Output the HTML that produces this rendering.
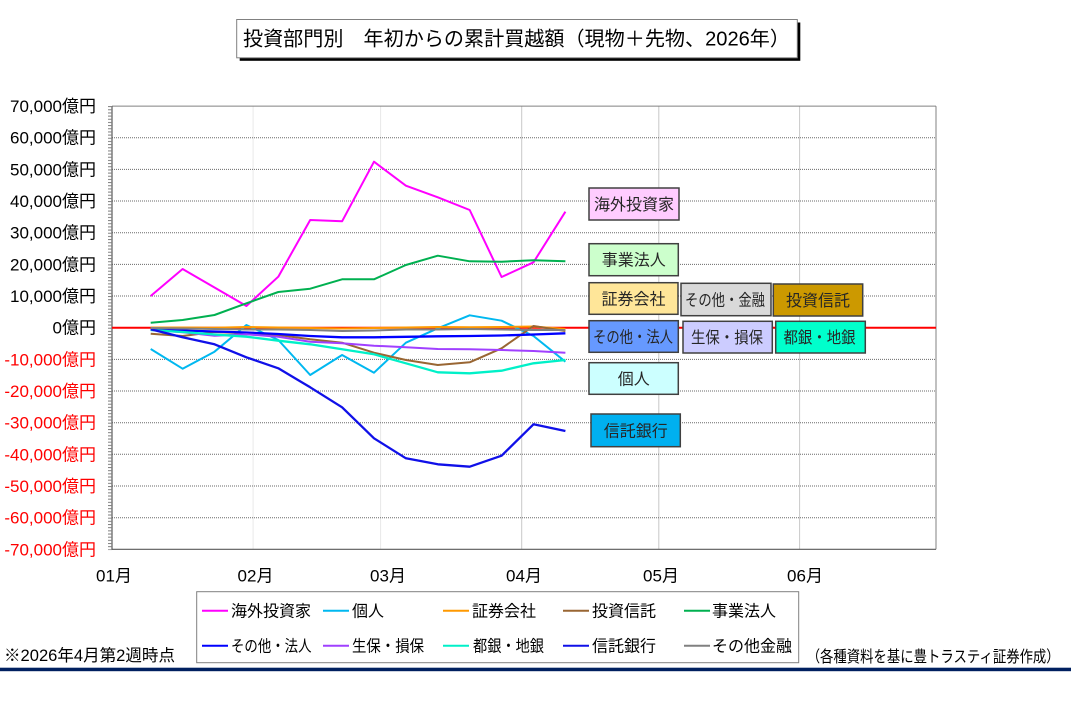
<!DOCTYPE html>
<html><head><meta charset="utf-8"><style>
html,body{margin:0;padding:0;background:#fff;}
svg{display:block;}
text{font-family:"Liberation Sans","Noto Sans CJK JP",sans-serif;}
</style></head><body>
<svg width="1074" height="707" viewBox="0 0 1074 707" xmlns="http://www.w3.org/2000/svg">
<defs>
<pattern id="tk" patternUnits="userSpaceOnUse" x="0" y="106.1" width="10" height="3.166">
<rect x="0" y="0" width="10" height="1" fill="#808080"/>
</pattern>
</defs>
<rect width="1074" height="707" fill="#fff"/>

<!-- Title -->
<rect x="239.7" y="22.5" width="560.6" height="38.3" fill="#000"/>
<rect x="236.7" y="19.5" width="560.6" height="38.3" fill="#fff" stroke="#808080" stroke-width="1"/>
<text x="243" y="45.5" font-size="20" fill="#000" textLength="547" lengthAdjust="spacingAndGlyphs">投資部門別　年初からの累計買越額（現物＋先物、2026年）</text>

<!-- vertical gridlines -->
<g stroke-width="1">
<line x1="253.1" y1="106.1" x2="253.1" y2="549.3" stroke="#e8e8e8"/>
<line x1="380.6" y1="106.1" x2="380.6" y2="549.3" stroke="#e8e8e8"/>
<line x1="521.7" y1="106.1" x2="521.7" y2="549.3" stroke="#c8c8c8"/>
<line x1="658.8" y1="106.1" x2="658.8" y2="549.3" stroke="#c8c8c8"/>
<line x1="799.6" y1="106.1" x2="799.6" y2="549.3" stroke="#c8c8c8"/>
</g>

<!-- horizontal gridlines (dotted) -->
<g stroke="#6a6a6a" stroke-width="1" stroke-dasharray="1,1">
<line x1="112" y1="137.7" x2="936" y2="137.7"/>
<line x1="112" y1="169.4" x2="936" y2="169.4"/>
<line x1="112" y1="201.0" x2="936" y2="201.0"/>
<line x1="112" y1="232.7" x2="936" y2="232.7"/>
<line x1="112" y1="264.4" x2="936" y2="264.4"/>
<line x1="112" y1="296.0" x2="936" y2="296.0"/>
<line x1="112" y1="359.4" x2="936" y2="359.4"/>
<line x1="112" y1="391.0" x2="936" y2="391.0"/>
<line x1="112" y1="422.7" x2="936" y2="422.7"/>
<line x1="112" y1="454.3" x2="936" y2="454.3"/>
<line x1="112" y1="486.0" x2="936" y2="486.0"/>
<line x1="112" y1="517.7" x2="936" y2="517.7"/>
</g>

<!-- plot border -->
<line x1="112" y1="106.1" x2="936" y2="106.1" stroke="#808080" stroke-width="1"/>
<line x1="936" y1="106.1" x2="936" y2="549.3" stroke="#808080" stroke-width="1"/>
<line x1="112" y1="549.3" x2="936" y2="549.3" stroke="#595959" stroke-width="1.2"/>
<line x1="112" y1="106.1" x2="112" y2="549.8" stroke="#595959" stroke-width="1.2"/>
<rect x="108" y="105.6" width="4" height="444.5" fill="url(#tk)"/>

<!-- zero line -->
<line x1="112" y1="327.7" x2="936" y2="327.7" stroke="#FF0000" stroke-width="2"/>

<!-- Y labels -->
<g font-size="17" text-anchor="end">
<text x="96" y="112" fill="#000">70,000億円</text>
<text x="96" y="143.7" fill="#000">60,000億円</text>
<text x="96" y="175.4" fill="#000">50,000億円</text>
<text x="96" y="207" fill="#000">40,000億円</text>
<text x="96" y="238.7" fill="#000">30,000億円</text>
<text x="96" y="270.4" fill="#000">20,000億円</text>
<text x="96" y="302" fill="#000">10,000億円</text>
<text x="96" y="333.7" fill="#000">0億円</text>
<text x="96" y="365.4" fill="#FF0000">-10,000億円</text>
<text x="96" y="397" fill="#FF0000">-20,000億円</text>
<text x="96" y="428.7" fill="#FF0000">-30,000億円</text>
<text x="96" y="460.3" fill="#FF0000">-40,000億円</text>
<text x="96" y="492" fill="#FF0000">-50,000億円</text>
<text x="96" y="523.7" fill="#FF0000">-60,000億円</text>
<text x="96" y="555.3" fill="#FF0000">-70,000億円</text>
</g>

<!-- X labels -->
<g font-size="17" text-anchor="middle" fill="#000">
<text x="114" y="581.5">01月</text>
<text x="255.5" y="581.5">02月</text>
<text x="388" y="581.5">03月</text>
<text x="524" y="581.5">04月</text>
<text x="661" y="581.5">05月</text>
<text x="805" y="581.5">06月</text>
</g>

<!-- series -->
<g fill="none" stroke-width="2" stroke-linejoin="round">
<polyline stroke="#FF00FF" points="150.7,296 182.6,269 214.5,287.5 246.4,306 278.3,276.7 310.2,220 342.1,221.3 374,161.7 405.9,185.7 437.8,197.3 469.7,210 501.6,277 533.5,262.3 565.4,211.7"/>
<polyline stroke="#00B8F0" points="150.7,349 182.6,368.7 214.5,351.7 246.4,325 278.3,340 310.2,375 342.1,355 374,372.7 405.9,342.7 437.8,328.3 469.7,315.3 501.6,320.7 533.5,336 565.4,361.7"/>
<polyline stroke="#FF9900" points="150.7,327.5 182.6,327.5 214.5,327.7 246.4,327 278.3,327.5 310.2,328 342.1,328.5 374,328 405.9,327.5 437.8,327 469.7,327.3 501.6,327 533.5,326.5 565.4,329"/>
<polyline stroke="#996633" points="150.7,333.7 182.6,336 214.5,332 246.4,333.3 278.3,335 310.2,339.3 342.1,342.7 374,352.7 405.9,360 437.8,365 469.7,362.3 501.6,348.3 533.5,326 565.4,331"/>
<polyline stroke="#00B050" points="150.7,322.7 182.6,320 214.5,315 246.4,303.3 278.3,292 310.2,288.7 342.1,279.3 374,279.3 405.9,265 437.8,255.7 469.7,261.3 501.6,261.7 533.5,260.3 565.4,261.3"/>
<polyline stroke="#0000FF" stroke-width="2.3" points="150.7,329.3 182.6,330.5 214.5,331.5 246.4,332.5 278.3,334 310.2,336 342.1,337.3 374,337.3 405.9,336.8 437.8,336.3 469.7,336 501.6,335.5 533.5,334.5 565.4,333.3"/>
<polyline stroke="#A040FF" points="150.7,330 182.6,332.3 214.5,335.7 246.4,334.3 278.3,336.7 310.2,341.7 342.1,343.3 374,345.7 405.9,347.3 437.8,349 469.7,349.3 501.6,350 533.5,351 565.4,352.7"/>
<polyline stroke="#00F0C8" stroke-width="2.3" points="150.7,330 182.6,332 214.5,334.5 246.4,336.7 278.3,340.7 310.2,344.3 342.1,349.3 374,354.3 405.9,363.3 437.8,372.3 469.7,373.3 501.6,370.7 533.5,363.3 565.4,360"/>
<polyline stroke="#1010E8" stroke-width="2.3" points="150.7,329.3 182.6,337.3 214.5,344.3 246.4,357.3 278.3,368.3 310.2,387.3 342.1,407.3 374,438.3 405.9,458.3 437.8,464.3 469.7,466.7 501.6,455.7 533.5,424.3 565.4,431"/>
<polyline stroke="#808080" points="150.7,328 182.6,328.5 214.5,329 246.4,329.5 278.3,329.5 310.2,330 342.1,331 374,330.5 405.9,329.5 437.8,329.5 469.7,329 501.6,329.5 533.5,330 565.4,330"/>
</g>

<!-- annotation boxes -->
<g stroke="#404040" stroke-width="1.5">
<rect x="589" y="188" width="90" height="32" fill="#FFCCFF"/>
<rect x="589" y="243.7" width="89.3" height="32" fill="#CCFFCC"/>
<rect x="589" y="282.7" width="89" height="31.6" fill="#FFE699"/>
<rect x="681" y="283.3" width="90" height="32.4" fill="#D9D9D9"/>
<rect x="773.3" y="284" width="89.4" height="32" fill="#CC9900"/>
<rect x="589" y="320.7" width="89.3" height="31.6" fill="#6699FF"/>
<rect x="683" y="321.3" width="89.3" height="31.7" fill="#CCCCFF"/>
<rect x="775.7" y="321.3" width="89.6" height="31.7" fill="#00FFCC"/>
<rect x="589" y="362.7" width="89.3" height="31.6" fill="#CCFFFF"/>
<rect x="591" y="414" width="89.3" height="32.7" fill="#00B0F0"/>
</g>
<g font-size="16" fill="#262626">
<text x="634" y="210" text-anchor="middle">海外投資家</text>
<text x="633.7" y="265.7" text-anchor="middle">事業法人</text>
<text x="633.5" y="304.5" text-anchor="middle">証券会社</text>
<text x="685" y="305.5" textLength="80" lengthAdjust="spacingAndGlyphs">その他・金融</text>
<text x="818" y="306" text-anchor="middle">投資信託</text>
<text x="593" y="342.5" textLength="80" lengthAdjust="spacingAndGlyphs">その他・法人</text>
<text x="691" y="343.2" textLength="72" lengthAdjust="spacingAndGlyphs">生保・損保</text>
<text x="783.5" y="343.2" textLength="72" lengthAdjust="spacingAndGlyphs">都銀・地銀</text>
<text x="633.7" y="384.5" text-anchor="middle">個人</text>
<text x="635.7" y="436.3" text-anchor="middle">信託銀行</text>
</g>

<!-- legend -->
<rect x="196.7" y="591.7" width="602" height="71" fill="#fff" stroke="#808080" stroke-width="1"/>
<g stroke-width="2">
<line x1="202" y1="610.7" x2="228" y2="610.7" stroke="#FF00FF"/>
<line x1="323" y1="610.7" x2="349" y2="610.7" stroke="#00B8F0"/>
<line x1="443" y1="610.7" x2="469" y2="610.7" stroke="#FF9900"/>
<line x1="563" y1="610.7" x2="589" y2="610.7" stroke="#996633"/>
<line x1="684" y1="610.7" x2="710" y2="610.7" stroke="#00B050"/>
<line x1="202" y1="645.7" x2="228" y2="645.7" stroke="#0000FF"/>
<line x1="323" y1="645.7" x2="349" y2="645.7" stroke="#A040FF"/>
<line x1="443" y1="645.7" x2="469" y2="645.7" stroke="#00F0C8"/>
<line x1="563" y1="645.7" x2="589" y2="645.7" stroke="#1010E8"/>
<line x1="684" y1="645.7" x2="710" y2="645.7" stroke="#808080"/>
</g>
<g font-size="16" fill="#000">
<text x="231" y="616.5">海外投資家</text>
<text x="352" y="616.5">個人</text>
<text x="472" y="616.5">証券会社</text>
<text x="592" y="616.5">投資信託</text>
<text x="712" y="616.5">事業法人</text>
<text x="231" y="651.5" textLength="80.5" lengthAdjust="spacingAndGlyphs">その他・法人</text>
<text x="352" y="651.5" textLength="72" lengthAdjust="spacingAndGlyphs">生保・損保</text>
<text x="473" y="651.5" textLength="71" lengthAdjust="spacingAndGlyphs">都銀・地銀</text>
<text x="592" y="651.5">信託銀行</text>
<text x="712" y="651.5">その他金融</text>
</g>

<!-- footer -->
<text x="4" y="661" font-size="16.5" fill="#000" textLength="171" lengthAdjust="spacingAndGlyphs">※2026年4月第2週時点</text>
<text x="806.7" y="662" font-size="16" fill="#000" textLength="253" lengthAdjust="spacingAndGlyphs">（各種資料を基に豊トラスティ証券作成）</text>
<rect x="0" y="667.7" width="1071" height="3.5" fill="#002060"/>
</svg>
</body></html>
